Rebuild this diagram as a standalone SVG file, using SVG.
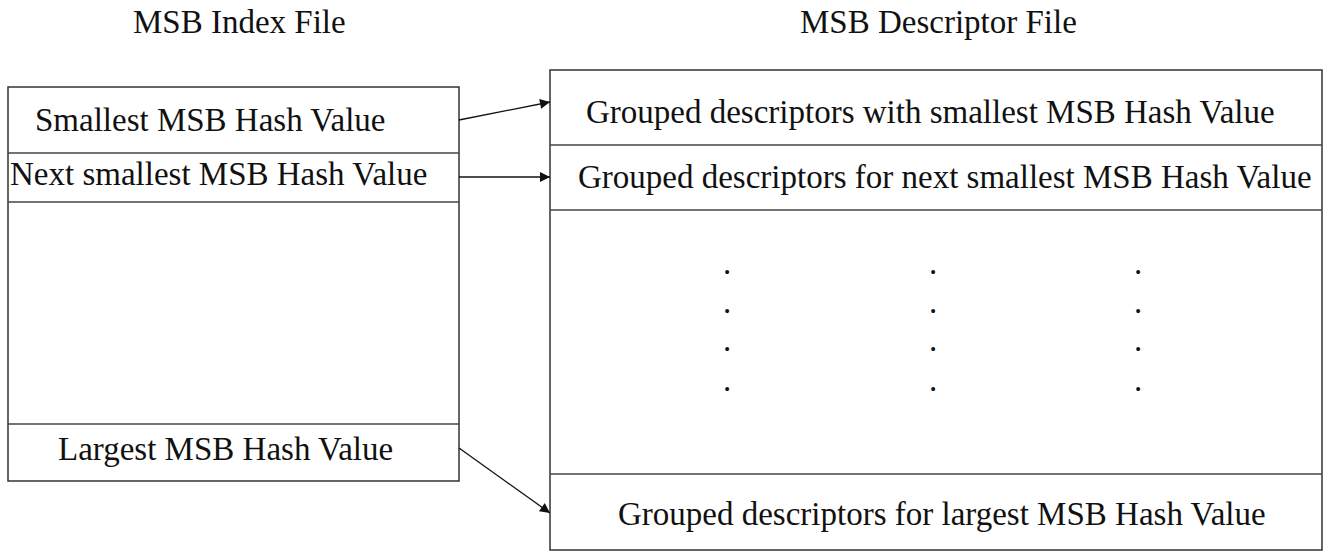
<svg xmlns="http://www.w3.org/2000/svg" width="1324" height="552" viewBox="0 0 1324 552">
<defs>
<style>
.box{fill:#fff;stroke:#333;stroke-width:1.5}
.div{stroke:#444;stroke-width:1.5}
.t{font-family:'Liberation Serif','Times New Roman',Times,serif;font-size:33px;fill:#111}
.dot{font-family:'Liberation Serif','Times New Roman',Times,serif;font-size:33px;fill:#111;text-anchor:middle}
.arr{stroke:#111;stroke-width:1.3;fill:none;marker-end:url(#ah)}
</style>
<marker id="ah" viewBox="0 0 10 10" refX="10" refY="5" markerWidth="12" markerHeight="10" markerUnits="userSpaceOnUse" orient="auto">
<path d="M0,0 L10,5 L0,10 z" fill="#111"/>
</marker>
</defs>
<rect width="1324" height="552" fill="#fff"/>
<g font-family="Liberation Serif, Times New Roman, serif">
<text class="t" x="133" y="33">MSB Index File</text>
<text class="t" x="800" y="33">MSB Descriptor File</text>
</g>
<g id="index-file">
<rect class="box" x="8" y="87" width="451" height="394"/>
<line class="div" x1="8" y1="153" x2="459" y2="153"/>
<line class="div" x1="8" y1="202" x2="459" y2="202"/>
<line class="div" x1="8" y1="424" x2="459" y2="424"/>
</g>
<g id="idx-smallest"><text class="t" x="35" y="131">Smallest MSB Hash Value</text></g>
<g id="idx-next"><text class="t" x="10" y="185">Next smallest MSB Hash Value</text></g>
<g id="idx-largest"><text class="t" x="58" y="460">Largest MSB Hash Value</text></g>
<g id="descriptor-file">
<rect class="box" x="550" y="70" width="772" height="480"/>
<line class="div" x1="550" y1="145" x2="1322" y2="145"/>
<line class="div" x1="550" y1="210" x2="1322" y2="210"/>
<line class="div" x1="550" y1="474" x2="1322" y2="474"/>
</g>
<g id="desc-smallest"><text class="t" x="586" y="123">Grouped descriptors with smallest MSB Hash Value</text></g>
<g id="desc-next"><text class="t" x="578" y="188">Grouped descriptors for next smallest MSB Hash Value</text></g>
<g id="desc-largest"><text class="t" x="618" y="525">Grouped descriptors for largest MSB Hash Value</text></g>
<g id="dots">
<text class="dot" x="727" y="274">.</text><text class="dot" x="933" y="274">.</text><text class="dot" x="1138" y="274">.</text>
<text class="dot" x="727" y="313">.</text><text class="dot" x="933" y="313">.</text><text class="dot" x="1138" y="313">.</text>
<text class="dot" x="727" y="351">.</text><text class="dot" x="933" y="351">.</text><text class="dot" x="1138" y="351">.</text>
<text class="dot" x="727" y="391">.</text><text class="dot" x="933" y="391">.</text><text class="dot" x="1138" y="391">.</text>
</g>
<g id="connectors">
<line class="arr" x1="459" y1="120" x2="550" y2="102"/>
<line class="arr" x1="459" y1="177" x2="550" y2="177"/>
<line class="arr" x1="459" y1="448" x2="550" y2="513"/>
</g>
</svg>
